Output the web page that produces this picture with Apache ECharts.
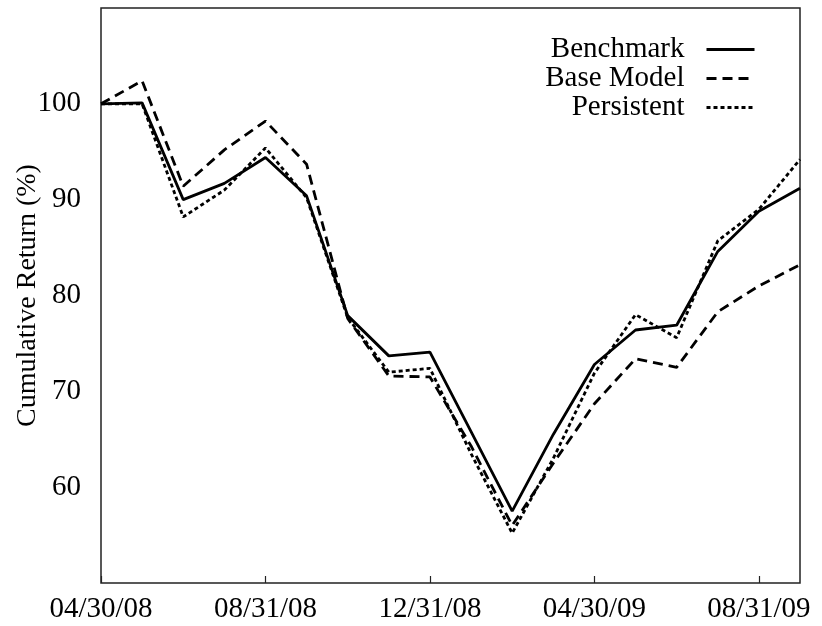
<!DOCTYPE html>
<html>
<head>
<meta charset="utf-8">
<script src="https://cdn.jsdelivr.net/npm/echarts@6/dist/echarts.min.js"></script>
<style>
  html, body { margin: 0; padding: 0; background: #fff; }
  #chart { width: 822px; height: 626px; }
</style>
</head>
<body>
<div id="chart"></div>
<script>
const dates = ["04/30/08", "05/31/08", "06/30/08", "07/31/08", "08/31/08", "09/30/08",
               "10/31/08", "11/30/08", "12/31/08", "01/31/09", "02/28/09", "03/31/09",
               "04/30/09", "05/31/09", "06/30/09", "07/31/09", "08/31/09", "09/30/09"];

const benchmark  = [100, 100.1, 90.0, 91.7, 94.4, 90.4, 77.9, 73.7, 74.1, 65.8, 57.5, 65.5, 72.8, 76.4, 76.9, 84.6, 88.8, 91.2];
const baseModel  = [100, 102.4, 91.4, 95.2, 98.2, 93.7, 77.6, 71.6, 71.5, 64.3, 56.0, 62.5, 68.7, 73.4, 72.5, 78.3, 81.0, 83.2];
const persistent = [100, 100.0, 88.2, 91.0, 95.4, 90.2, 77.7, 72.0, 72.4, 63.5, 55.2, 63.0, 71.9, 78.0, 75.6, 85.7, 89.0, 94.2];

const font = "'Liberation Serif', 'DejaVu Serif', serif";

const chart = echarts.init(document.getElementById("chart"));

const mkSeries = (name, data, type) => ({
    name: name,
    type: "line",
    data: data,
    symbol: "none",
    lineStyle: { color: "#000", width: 2.8, type: type },
    itemStyle: { color: "#000" },
    emphasis: { disabled: true },
    animation: false
});

chart.setOption({
    animation: false,
    grid: {
        left: 101, right: 22, top: 8, bottom: 43,
        outerBoundsMode: "none",
        containLabel: false,
        show: true, borderColor: "#222", borderWidth: 1.5
    },
    legend: {
        orient: "vertical",
        right: 61,
        top: 30,
        align: "right",
        itemWidth: 48,
        itemHeight: 14,
        itemGap: 0,
        itemStyle: { opacity: 0 },
        lineStyle: { width: 3 },
        textStyle: { fontFamily: font, fontSize: 29, color: "#000", lineHeight: 29, padding: [0, 17, 0, 0] },
        data: ["Benchmark", "Base Model", "Persistent"]
    },
    xAxis: {
        type: "category",
        data: dates,
        boundaryGap: false,
        axisLine: { show: false },
        axisTick: { inside: true, length: 7, interval: 3, lineStyle: { color: "#222", width: 1.2 } },
        axisLabel: { interval: 3, margin: 12, fontFamily: font, fontSize: 29, color: "#000" },
        splitLine: { show: false }
    },
    yAxis: [{
        type: "value",
        min: 50, max: 110, interval: 10,
        name: "Cumulative Return (%)",
        nameLocation: "middle",
        nameGap: 59,
        nameMoveOverlap: false,
        nameTextStyle: { fontFamily: font, fontSize: 28, color: "#000" },
        axisLine: { show: false },
        axisTick: { inside: true, length: 7, lineStyle: { color: "#222", width: 1.2 } },
        axisLabel: {
            margin: 20, fontFamily: font, fontSize: 29, color: "#000",
            formatter: v => (v === 50 || v === 110) ? "" : String(v)
        },
        splitLine: { show: false }
    }, {
        type: "value",
        position: "right",
        min: 50, max: 110, interval: 10,
        axisLine: { show: false },
        axisTick: { inside: true, length: 7, lineStyle: { color: "#222", width: 1.2 } },
        axisLabel: { show: false },
        splitLine: { show: false }
    }],
    series: [
        mkSeries("Benchmark", benchmark, "solid"),
        mkSeries("Base Model", baseModel, [10, 6]),
        mkSeries("Persistent", persistent, [4, 3])
    ]
});
</script>
</body>
</html>
